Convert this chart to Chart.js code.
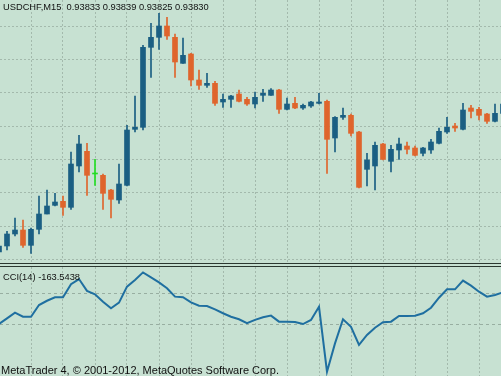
<!DOCTYPE html>
<html lang="en">
<head>
<meta charset="UTF-8">
<title>USDCHF M15 with CCI(14)</title>
<script src="https://cdn.jsdelivr.net/npm/chart.js"></script>
<style>
  body { margin:0; width:501px; height:376px; overflow:hidden; position:relative;
         background:#c7e1d2; font-family:"Liberation Sans", Arial, sans-serif; color:#111; }
  canvas { position:absolute; left:0; }
  #mainChart { top:0; }
  #cciChart { top:267px; }
  .sep { position:absolute; left:0; width:501px; height:1px; background:#2b3830; }
  .lbl { position:absolute; white-space:pre; line-height:12px; font-size:9.3px; }
  .foot { font-size:11px; line-height:12px; }
</style>
</head>
<body>
<canvas id="mainChart" width="501" height="263"></canvas>
<div class="sep" style="top:263px"></div>
<div class="sep" style="top:266px"></div>
<canvas id="cciChart" width="501" height="109"></canvas>
<div class="lbl" style="left:3px; top:1px">USDCHF,M15  0.93833 0.93839 0.93825 0.93830</div>
<div class="lbl" style="left:3px; top:271px">CCI(14) -163.5438</div>
<div class="lbl foot" style="left:1px; top:364px">MetaTrader 4, © 2001-2012, MetaQuotes Software Corp.</div>
<script>
// M15 bars, oldest first
const opens = [0.93611,0.93620,0.93638,0.93644,0.93621,0.93645,0.93668,0.93681,0.93687,0.93678,
  0.93740,0.93762,0.93728,0.93726,0.93704,0.93689,0.93711,0.93795,0.93798,0.93918,
  0.93933,0.93950,0.93933,0.93894,0.93908,0.93869,0.93861,0.93864,0.93836,0.93840,
  0.93848,0.93840,0.93833,0.93846,0.93846,0.93854,0.93825,0.93834,0.93827,0.93830,
  0.93834,0.93837,0.93782,0.93813,0.93816,0.93791,0.93735,0.93740,0.93773,0.93747,
  0.93764,0.93770,0.93767,0.93759,0.93764,0.93774,0.93791,0.93800,0.93795,0.93827,
  0.93825,0.93818,0.93807,0.93819];
const highs = [0.93625,0.93642,0.93662,0.93659,0.93647,0.93695,0.93704,0.93699,0.93695,0.93761,
  0.93786,0.93774,0.93750,0.93728,0.93705,0.93743,0.93801,0.93845,0.93921,0.93954,
  0.93969,0.93963,0.93938,0.93932,0.93909,0.93884,0.93879,0.93867,0.93848,0.93846,
  0.93854,0.93843,0.93851,0.93855,0.93856,0.93855,0.93842,0.93843,0.93833,0.93837,
  0.93849,0.93839,0.93814,0.93827,0.93818,0.93792,0.93759,0.93776,0.93774,0.93771,
  0.93782,0.93776,0.93770,0.93768,0.93780,0.93797,0.93813,0.93804,0.93834,0.93831,
  0.93828,0.93819,0.93833,0.93839];
const lows = [0.93607,0.93614,0.93635,0.93618,0.93609,0.93638,0.93668,0.93680,0.93666,0.93675,
  0.93731,0.93696,0.93711,0.93675,0.93662,0.93684,0.93710,0.93791,0.93794,0.93873,
  0.93915,0.93930,0.93873,0.93894,0.93860,0.93855,0.93858,0.93831,0.93828,0.93828,
  0.93836,0.93831,0.93827,0.93837,0.93846,0.93819,0.93824,0.93826,0.93825,0.93828,
  0.93833,0.93729,0.93761,0.93810,0.93785,0.93707,0.93710,0.93704,0.93749,0.93731,
  0.93750,0.93758,0.93755,0.93755,0.93759,0.93773,0.93789,0.93792,0.93794,0.93812,
  0.93809,0.93804,0.93806,0.93818];
const closes = [0.93620,0.93638,0.93644,0.93621,0.93645,0.93668,0.93680,0.93686,0.93678,0.93743,
  0.93773,0.93726,0.93728,0.93699,0.93690,0.93713,0.93794,0.93798,0.93918,0.93933,
  0.93950,0.93935,0.93896,0.93906,0.93869,0.93861,0.93864,0.93834,0.93840,0.93845,
  0.93837,0.93833,0.93843,0.93849,0.93854,0.93825,0.93833,0.93827,0.93831,0.93836,
  0.93836,0.93780,0.93813,0.93816,0.93789,0.93708,0.93749,0.93771,0.93750,0.93765,
  0.93773,0.93765,0.93756,0.93767,0.93776,0.93792,0.93798,0.93797,0.93824,0.93822,
  0.93816,0.93807,0.93819,0.93833];
// CCI(14) for the same bars
const cciValues = [-94,-58,-22,-48,-48,26,53,75,75,157,
  190,115,94,47,5,41,142,184,232,201,
  169,132,79,75,43,22,20,-1,-26,-48,
  -64,-89,-68,-51,-41,-79,-79,-81,-94,-68,
  15,-395,-216,-64,-111,-226,-163,-117,-83,-79,
  -43,-43,-41,-26,9,72,125,125,180,148,
  110,79,89,106];

const upColor = '#1b5f83';
const downColor = '#df652d';
const dojiColor = '#22dd22';
const gridColor = '#a3b9ac';
const levelColor = '#98aea1';

const candleColors = opens.map((o, i) =>
  closes[i] > o ? upColor : (closes[i] < o ? downColor : dojiColor));

const wickData = lows.map((l, i) => ({ x: i, y: [l, highs[i]] }));
const bodyData = opens.map((o, i) => ({ x: i, y: [Math.min(o, closes[i]), Math.max(o, closes[i])] }));
const cciData = cciValues.map((v, i) => ({ x: i, y: v }));

// x range: 8 px per bar, vertical grid every 4 bars (1 hour)
function xScale() {
    return {
        type: 'linear', min: 0.125, max: 62.75, offset: false,
        ticks: { display: false, stepSize: 4, includeBounds: false },
        grid: { color: gridColor, drawTicks: false, offset: false },
        border: { display: false, dash: [2, 2] }
    };
}

new Chart(document.getElementById('mainChart'), {
    type: 'bar',
    data: {
        datasets: [
            { data: wickData, backgroundColor: candleColors, barThickness: 1, grouped: false, borderWidth: 0 },
            { data: bodyData, backgroundColor: candleColors, barThickness: 5, grouped: false, borderWidth: 0, minBarLength: 1 }
        ]
    },
    options: {
        responsive: false, animation: false,
        layout: { padding: 0 },
        plugins: { legend: { display: false }, tooltip: { enabled: false } },
        scales: {
            x: xScale(),
            y: {
                min: 0.935945, max: 0.93989,
                ticks: { display: false, stepSize: 0.0005, includeBounds: false },
                grid: { color: gridColor, drawTicks: false },
                border: { display: false, dash: [2, 2] }
            }
        }
    }
});

new Chart(document.getElementById('cciChart'), {
    type: 'line',
    data: {
        datasets: [
            { data: cciData, borderColor: '#1f6fa0', borderWidth: 2, pointRadius: 0, tension: 0 }
        ]
    },
    options: {
        responsive: false, animation: false,
        layout: { padding: 0 },
        plugins: { legend: { display: false }, tooltip: { enabled: false } },
        scales: {
            x: xScale(),
            y: {
                min: -422, max: 266,
                ticks: { display: false },
                // only the +100 / -100 levels are drawn
                afterBuildTicks: s => { s.ticks = [{ value: -100 }, { value: 100 }]; },
                grid: { color: levelColor, drawTicks: false },
                border: { display: false, dash: [3, 3] }
            }
        }
    }
});
</script>
</body>
</html>
